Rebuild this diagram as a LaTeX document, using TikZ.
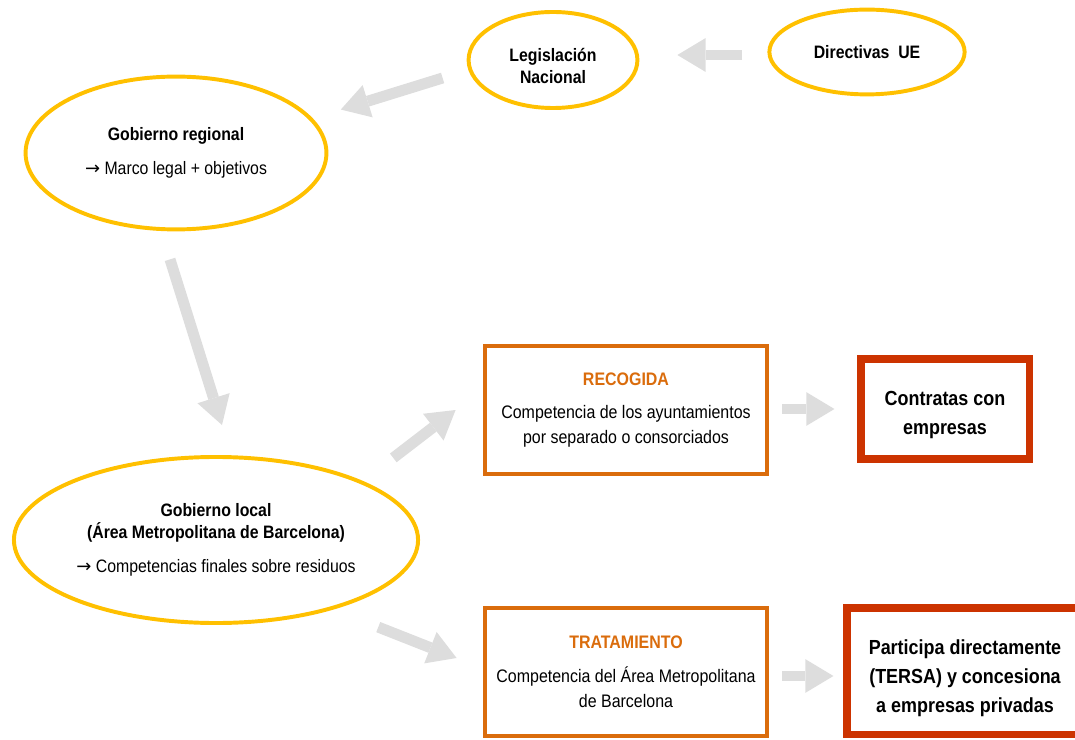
\documentclass[tikz,border=0pt]{standalone}
\usepackage{fontspec}
\setmainfont{Liberation Sans}[FakeStretch=0.88]
\newfontfamily\arrowfont{DejaVu Sans}
\usetikzlibrary{calc}
\usetikzlibrary{shapes.geometric}
\usetikzlibrary{positioning,arrows.meta}
\definecolor{govyellow}{HTML}{FFC000}
\definecolor{comporange}{HTML}{DA6C0C}
\definecolor{outred}{HTML}{CC3300}
\definecolor{arrowgray}{HTML}{DDDDDD}
\newcommand{\rarr}{{\arrowfont →}}
% lines set a little lower than the node centre
\newcommand{\lowerby}[2]{\raisebox{-#1}[\height][\depth]{\begin{tabular}{@{}c@{}}#2\end{tabular}}}
\tikzset{
    ovalnode/.style={
        ellipse, draw=govyellow, line width=2.8pt,
        inner sep=0pt, align=center,
        font=\fontsize{12.8}{15.6}\selectfont
    },
    block/.style={
        draw=comporange, line width=2.8pt,
        minimum width=7.07cm, minimum height=3.2cm,
        align=center, font=\fontsize{12.9}{17.7}\selectfont
    },
    outblock/.style={
        draw=outred, line width=5pt, align=center,
        font=\bfseries\fontsize{14.5}{20.5}\selectfont
    }
}

\begin{document}
\begin{tikzpicture}[
    x=0.025cm, y=-0.025cm,
    arrow/.style={
        draw=arrowgray, line width=7.8pt,
        -{Triangle[width=24pt,length=20pt,line width=0pt]}
    },
]
\useasboundingbox (0,0) rectangle (1075,740);

% ============ Governments ============

\node[ovalnode, minimum width=4.88cm, minimum height=2.12cm] (dirUE) at (867,52)
    {\textbf{Directivas\ \ UE}};
\node[ovalnode, minimum width=4.22cm, minimum height=2.4cm] (legnac) at (553,60)
    {\lowerby{5.7pt}{\textbf{Legislación}\\\textbf{Nacional}}};
\node[ovalnode, minimum width=7.52cm, minimum height=3.82cm] (regional) at (176,153)
    {\textbf{Gobierno regional}\\[8.5pt]\rarr{} Marco legal + objetivos};
\node[ovalnode, minimum width=10.1cm, minimum height=4.15cm] (local) at (216,540)
    {\textbf{Gobierno local}\\\textbf{(Área Metropolitana de Barcelona)}\\[9pt]\rarr{} Competencias finales sobre residuos};

% ============ Competences ============

\node[block] (recog) at (626,410)
    {\textcolor{comporange}{\textbf{RECOGIDA}}\\[6.3pt]Competencia de los ayuntamientos\\por separado o consorciados};
\node[block] (trat) at (626,672)
    {\textcolor{comporange}{\textbf{TRATAMIENTO}}\\[6.3pt]Competencia del Área Metropolitana\\de Barcelona};

% ============ Outcomes ============

\node[outblock, minimum width=4.2cm, minimum height=2.5cm] (contr) at (945,409)
    {\lowerby{3.5pt}{Contratas con\\empresas}};
\node[outblock, minimum width=5.9cm, minimum height=3.15cm] (part) at (965,671)
    {\lowerby{5pt}{Participa directamente\\(TERSA) y concesiona\\a empresas privadas}};

% ============ Arrows ============

\draw[arrow] ($(dirUE.west)+(-25,3)$) -- ($(legnac.east)+(38,-5)$);
\draw[arrow] ($(legnac.west)+(-24,18)$) -- ($(regional.north east)+(57,12)$);
\draw[arrow] ($(regional.south)+(-6,28)$) -- ($(local.north)+(6,-30)$);
\draw[arrow] ($(local.north east)+(33,-22)$) -- ($(recog.west)+(-27,0)$);
\draw[arrow] ($(local.south east)+(18,27)$) -- ($(trat.west)+(-26,-14)$);
\draw[arrow] ($(recog.east)+(13,-1)$) -- ($(contr.west)+(-23,0)$);
\draw[arrow] ($(trat.east)+(13,4)$) -- ($(part.west)+(-10,5)$);

\end{tikzpicture}
\end{document}
